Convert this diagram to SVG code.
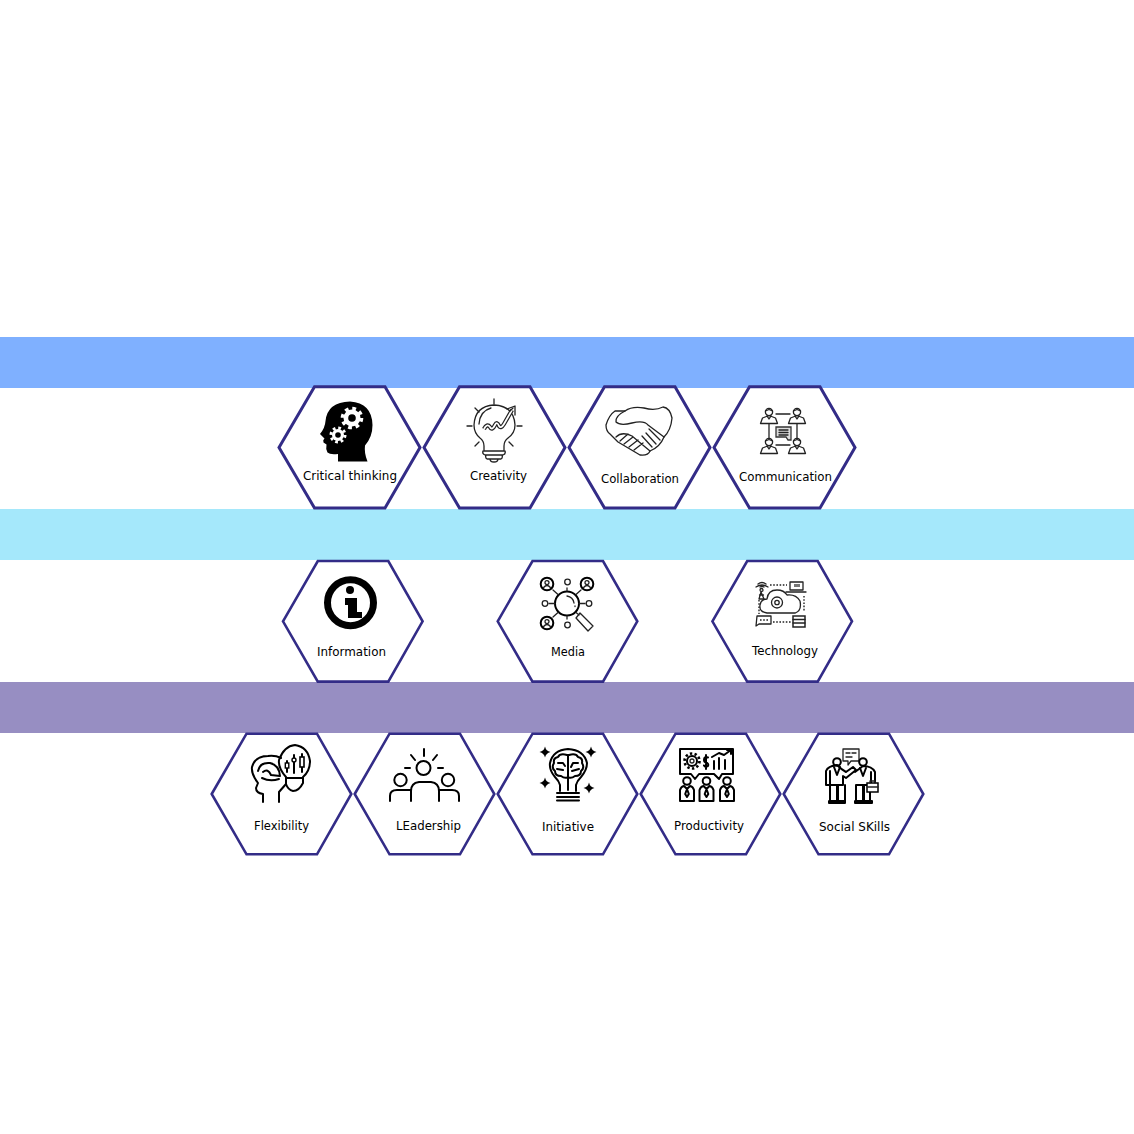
<svg xmlns="http://www.w3.org/2000/svg" width="1134" height="1134" viewBox="0 0 1134 1134">
<style>
.hex{fill:#fff;stroke:#332c87;stroke-width:2.6;stroke-linejoin:miter}
.hexa{stroke-width:3}
.lbl{font-family:"DejaVu Sans","Liberation Sans",sans-serif;font-size:12.5px;fill:#000;text-anchor:middle}
.i{fill:none;stroke:#000;stroke-width:2;stroke-linecap:round;stroke-linejoin:round}
.t{fill:none;stroke:#222;stroke-width:1.3;stroke-linecap:round;stroke-linejoin:round}
.d{fill:none;stroke:#222;stroke-width:1.4;stroke-dasharray:1.6 1.6}
</style>
<defs>
<polygon id="h1" points="-70.5,0 -35,-60.7 35.5,-60.7 70.5,0 35.5,60.7 -35,60.7"/>
<polygon id="h2" points="-69.8,0 -35,-60.3 35.5,-60.3 69.8,0 35.5,60.3 -35,60.3"/>
<g id="commP"><circle cx="0" cy="-4" r="3.6" class="t" stroke-width="1.500"/><path class="t" stroke-width="1.500" d="M-3.600-5L0-6.500 3.600-5M-8.500 7.500L-6.500 2 0-.5 6.500 2 8.500 7.500ZM-2-.2L0 3 2-.2"/></g>
<g id="medP"><circle r="6.300" class="i" stroke-width="2.200"/><circle cy="-1.400" r="2" class="t" stroke-width="1.400"/><path class="t" stroke-width="1.400" d="M-3.400 3.500Q0-.5 3.400 3.500"/></g>
<g id="prodP"><circle cy="-9" r="3.800" class="i" stroke-width="1.800"/><path class="i" stroke-width="1.800" d="M-7 11V0Q-6-3.500-3-4L0-1 3-4Q6-3.500 7 0V11ZM0-1L-1.800 4 0 7 1.800 4Z"/></g>
<g id="spark"><path d="M0-5.500Q1-1 5.500 0 1 1 0 5.500-1 1-5.500 0-1-1 0-5.500Z" fill="#000"/></g>
</defs>

<g id="bands">
<rect x="0" y="337" width="1134" height="51" fill="#7fb0ff"/>
<rect x="0" y="509" width="1134" height="51" fill="#a5e8fb"/>
<rect x="0" y="682" width="1134" height="51" fill="#978ec2"/>
</g>

<g id="connectors"></g>

<g id="node-critical-thinking">
<use href="#h1" class="hex hexa" x="349.5" y="447.4"/>
<path fill="#000" d="M338 461.500V454Q330 455 327.500 452.500 325.500 449 326.500 444.500L323.500 442.500Q322.500 440 324.500 438.500L320 434Q325 428 325.500 421 327.500 402 350 401.500 372 403 372.500 425 372.500 437 365 445.500 364 453 367.500 461.500Z"/>
<circle cx="352" cy="418" r="8.500" fill="#fff"/>
<circle cx="352" cy="418" r="9.500" fill="none" stroke="#fff" stroke-width="3.600" stroke-dasharray="3.700 3.760"/>
<circle cx="352" cy="418" r="3.800" fill="#000"/>
<circle cx="338" cy="435" r="6" fill="#fff"/>
<circle cx="338" cy="435" r="7" fill="none" stroke="#fff" stroke-width="3" stroke-dasharray="2.700 2.800"/>
<circle cx="338" cy="435" r="2.800" fill="#000"/>
<text class="lbl" x="350" y="480" textLength="94" lengthAdjust="spacingAndGlyphs">Critical thinking</text>
</g>

<g id="node-creativity">
<use href="#h1" class="hex hexa" x="494.5" y="447.4"/>
<path class="t" stroke-width="1.400" d="M484 451V446Q484 441 480 438 474 433 474 425 475 406 494 405 514 406 515 425 515 433 508 438 504 441 504 446V451ZM484 451H504M483 451Q482 454 485 455H503Q506 454 505 451M486 455Q485 458 487 459H501Q503 458 502 455M490 459Q490 462 494 462 498 462 498 459M479 424Q480 411 491 408"/>
<path fill="none" stroke="#222" stroke-width="4.200" stroke-linejoin="round" d="M484 429Q487 423 490 427 492 431 495 425 497 421 499 426 501 429 504 424L512 410"/>
<path fill="none" stroke="#fff" stroke-width="1.800" stroke-linejoin="round" d="M484 429Q487 423 490 427 492 431 495 425 497 421 499 426 501 429 504 424L512 410"/>
<path class="t" stroke-width="1.400" d="M507 409L515 406 515 415"/>
<path class="t" d="M494 399V404M467 426H472M517 426H522M475 408L479 412M513 408L510 411M475 446L479 442M513 446L509 442"/>
<text class="lbl" x="498.500" y="480" textLength="57" lengthAdjust="spacingAndGlyphs">Creativity</text>
</g>

<g id="node-collaboration">
<use href="#h1" class="hex hexa" x="639.5" y="447.4"/>
<path class="t" stroke-width="1.500" d="M615 411Q609 415 606 425 606 431 610 434L618 442 640 455Q648 456 650 451 660 447 664 437 671 430 672 418 670 408 663 407 655 411 644 408 632 406 625 411 615 411 615 411Z"/>
<path class="t" stroke-width="1.500" d="M625 411Q615 416 616 422 620 426 632 423 644 420 648 425L664 437M616 437Q622 431 632 436L650 451M620 441L628 434M624 444L633 437M629 447L638 440M634 450L643 443M649 429L660 440M646 433L656 444M642 436L652 447"/>
<text class="lbl" x="640" y="483" textLength="78" lengthAdjust="spacingAndGlyphs">Collaboration</text>
</g>

<g id="node-communication">
<use href="#h1" class="hex hexa" x="784.5" y="447.4"/>
<use href="#commP" x="769" y="416"/><use href="#commP" x="797" y="416"/><use href="#commP" x="769" y="446"/><use href="#commP" x="797" y="446"/>
<path class="t" stroke-width="1.500" d="M776 414H790M769 424V438M797 424V438M776 445H790"/>
<path d="M776 427H791V440H788L786 437H776Z" fill="#ddd" stroke="#333" stroke-width="1.300"/>
<path class="t" d="M779 430H788M779 432.500H788M779 435H788"/>
<text class="lbl" x="785.500" y="481" textLength="93" lengthAdjust="spacingAndGlyphs">Communication</text>
</g>

<g id="node-information">
<use href="#h2" class="hex" x="352.800" y="621.300"/>
<circle cx="350.500" cy="602.800" r="23" fill="none" stroke="#000" stroke-width="7"/>
<circle cx="350" cy="590" r="4" fill="#000"/>
<path d="M345 598H357V612H362V618H348V605H345Z" fill="#000"/>
<text class="lbl" x="351.500" y="656" textLength="69" lengthAdjust="spacingAndGlyphs">Information</text>
</g>

<g id="node-media">
<use href="#h2" class="hex" x="567.500" y="621.300"/>
<circle cx="567" cy="603.500" r="12" class="i" stroke-width="1.800"/>
<path class="t" d="M567 596Q573 597 574 603M575 606V606.500"/>
<use href="#medP" x="547" y="584"/><use href="#medP" x="587" y="584"/><use href="#medP" x="547" y="623"/>
<circle cx="567.500" cy="582" r="2.800" class="t" stroke-width="1.700"/><circle cx="545" cy="603.500" r="2.800" class="t" stroke-width="1.700"/><circle cx="589" cy="603.500" r="2.800" class="t" stroke-width="1.700"/><circle cx="567.500" cy="625" r="2.800" class="t" stroke-width="1.700"/>
<path class="t" stroke-width="1.700" d="M567 588V591M567 616V619M549 603.500H555M579 603.500H585M553 590L558 594.500M581 590L576 594.500M553 617L558 612.500M576 612.500L579 615M580 613L593 626 588 631 576 618Z"/>
<text class="lbl" x="568" y="656" textLength="34" lengthAdjust="spacingAndGlyphs">Media</text>
</g>

<g id="node-technology">
<use href="#h2" class="hex" x="782.200" y="621.300"/>
<path class="t" stroke-width="1.500" d="M767 613Q759 612 760 605 761 599 767 599 768 590 777 590 784 590 787 595 796 594 800 601 802 611 795 613H767"/>
<circle cx="777" cy="602.500" r="5.500" class="t" stroke-width="1.700"/><circle cx="777" cy="602.500" r="2.200" class="t"/>
<path class="t" stroke-width="1.500" d="M758 584Q762 581 766 584M756 587Q762 583 768 587M760 587Q762 586 764 587"/>
<circle cx="761.500" cy="590" r="1.500" class="t"/><path class="t" stroke-width="1.500" d="M759 599L761 592 764 599ZM759.500 595H763.500"/>
<path class="t" stroke-width="1.500" d="M790 582H803V590H790ZM786 592H806"/><rect x="794" y="584" width="6" height="3" fill="#777"/>
<path class="d" d="M770 585H787M804 596V612M759 600V614M773 622H791"/>
<path class="t" stroke-width="1.500" d="M757 616H771V624H759L756 626Z"/><path class="d" d="M760 620H768"/>
<rect x="793" y="616" width="12" height="11" fill="none" stroke="#222" stroke-width="1.500"/><path class="t" stroke-width="1.500" d="M793 619.500H805M793 623H805"/>
<text class="lbl" x="785" y="655" textLength="66" lengthAdjust="spacingAndGlyphs">Technology</text>
</g>

<g id="node-flexibility">
<use href="#h2" class="hex" x="281.500" y="794"/>
<path class="i" stroke-width="1.800" d="M263 802V794Q256 793 256 788L258 783Q251 774 252 767 255 756 268 756 275 755 281 758M279 802V792L286 784M258 771Q260 762 270 763 279 765 280 776L271 775Q268 768 263 772M262 778Q270 782 279 779"/>
<path class="i" stroke-width="1.800" d="M286 777Q278 768 279 760 284 746 295 745 308 747 310 761 310 771 303 777V783Q299 791 293 791 288 790 286 784Z"/>
<path class="i" stroke-width="1.600" d="M286 778H303M287 761V772M294 755V773M302 754V772"/>
<rect x="285.300" y="763" width="3.500" height="5" fill="#fff" stroke="#000" stroke-width="1.400"/><circle cx="294" cy="760" r="2" fill="#fff" stroke="#000" stroke-width="1.400"/><rect x="300" y="757" width="4" height="10" fill="#fff" stroke="#000" stroke-width="1.600"/>
<text class="lbl" x="281.500" y="830" textLength="55" lengthAdjust="spacingAndGlyphs">Flexibility</text>
</g>

<g id="node-leadership">
<use href="#h2" class="hex" x="424.500" y="794"/>
<circle cx="423.500" cy="768" r="7" class="i" stroke-width="2.600"/>
<circle cx="400.500" cy="780" r="6.200" class="i" stroke-width="2.600"/><circle cx="448" cy="780" r="6.200" class="i" stroke-width="2.600"/>
<path class="i" stroke-width="2.600" stroke-linecap="butt" d="M424 749V756M411 755L415 760M437 755L433 760M405 768H410M438 768H443M390 801V796Q390 790 397 790H410M459 801V796Q459 790 452 790H439M411 801V791Q411 783 419 782H431Q439 783 439 791V801"/>
<text class="lbl" x="428.500" y="830" textLength="65" lengthAdjust="spacingAndGlyphs">LEadership</text>
</g>

<g id="node-initiative">
<use href="#h2" class="hex" x="567.500" y="794"/>
<path class="i" stroke-width="1.800" d="M560 791V785Q559 781 555 777 549 770 550 763 553 750 568 749 584 750 587 763 587 770 581 777 577 781 576 785V791M557 793H579M557 797H579M557 800.500H579"/>
<path class="i" stroke-width="1.400" d="M568 755V790M567 755Q560 753 558 757 553 758 554 763 551 768 555 771 555 776 561 776 565 779 568 777M569 755Q576 753 578 757 583 758 582 763 585 768 581 771 581 776 575 776 571 779 568 777M558 763H563L565 766M557 769L563 770M578 763H573L571 767M579 769L572 771"/>
<use href="#spark" x="545" y="752"/><use href="#spark" x="591" y="752"/><use href="#spark" x="545" y="783"/><use href="#spark" x="589" y="788"/>
<text class="lbl" x="568" y="831" textLength="52" lengthAdjust="spacingAndGlyphs">Initiative</text>
</g>

<g id="node-productivity">
<use href="#h2" class="hex" x="710.500" y="794"/>
<path class="i" stroke-width="1.800" d="M680 749H733V774H722L719 779 714 774H699L695 779 691 774H680Z"/>
<circle cx="692" cy="761" r="5" class="i" stroke-width="1.700"/><circle cx="692" cy="761" r="2" class="t"/>
<circle cx="692" cy="761" r="7.500" fill="none" stroke="#000" stroke-width="2.600" stroke-dasharray="2.400 2.310"/>
<path class="i" stroke-width="1.500" d="M708 757.500Q704 756 704 760 704 762 706 762.500 709 763.500 708 766 705 767.500 704 765.500M706 755V769M714 761V769M719 758V769M725 760V769M712 757L719 753 724 755 731 750M727 750H731V754"/>
<use href="#prodP" x="687" y="790"/><use href="#prodP" x="706.500" y="790"/><use href="#prodP" x="727" y="790"/>
<text class="lbl" x="709" y="830" textLength="70" lengthAdjust="spacingAndGlyphs">Productivity</text>
</g>

<g id="node-social-skills">
<use href="#h2" class="hex" x="853.500" y="794"/>
<path class="t" stroke-width="1.500" d="M843 749H859V761H851L848 765V761H843ZM846 753H850M852 753H856M846 757H852"/>
<circle cx="837" cy="762" r="3.800" class="i" stroke-width="1.600"/><circle cx="863" cy="762" r="3.800" class="i" stroke-width="1.600"/>
<path class="i" stroke-width="1.700" d="M826 785V771Q828 766 837 765 842 770 846 772L853 767 856 770 846 778 843 776V785M826 785H830V771M830 785V801H837V785M838 785V801H845V785M830 785H843M829 801H837V803H829ZM838 801H845V803H838Z"/>
<path class="i" stroke-width="1.700" d="M855 772L863 766Q872 766 875 772V785M871 772V785M875 785H871M856 785H871M856 785V801H863V785M864 785V801H870V785M855 801H863V803H855ZM864 801H872V803H864Z"/>
<path class="i" stroke-width="1.500" d="M834 767L837 775 840 767M860 768L863 776 866 768"/>
<rect x="867" y="783" width="11" height="9" fill="#fff" stroke="#000" stroke-width="1.500"/>
<path class="t" d="M870 783V781H875V783M867 787H878"/>
<text class="lbl" x="854.500" y="831" textLength="71" lengthAdjust="spacingAndGlyphs">Social SKills</text>
</g>
</svg>
